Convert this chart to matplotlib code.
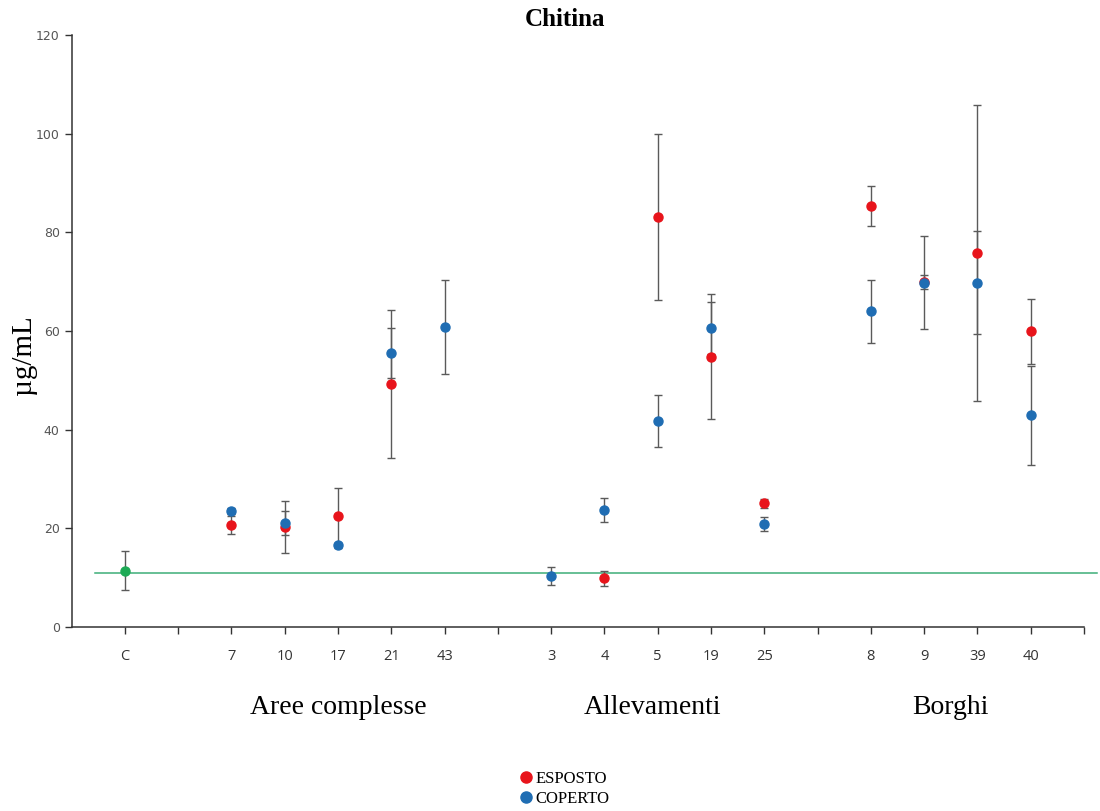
import numpy as np
import matplotlib
matplotlib.use('Agg')
import matplotlib.pyplot as plt
from matplotlib.lines import Line2D

nan = np.nan

# categories (empty strings are spacer slots between groups)
labels = ['C', '', '7', '10', '17', '21', '43', '', '3', '4', '5', '19', '25', '', '8', '9', '39', '40', '']
groups = ['Aree complesse', 'Allevamenti', 'Borghi']

esposto = [nan, nan, 20.7, 20.3, 22.4, 49.2, nan, nan, nan, 9.9, 83.1, 54.8, 25.1, nan, 85.3, 69.9, 75.8, 59.9]
esposto_err = [nan, nan, 1.8, 5.3, 5.7, 15.0, nan, nan, nan, 1.5, 16.8, 12.6, 0.9, nan, 4.1, 1.4, 30.0, 6.5]
coperto = [nan, nan, 23.5, 21.1, 16.6, 55.5, 60.8, nan, 10.3, 23.7, 41.7, 60.6, 20.9, nan, 64.0, 69.8, 69.8, 42.9]
coperto_err = [nan, nan, 0.6, 2.4, 0.5, 5.1, 9.5, nan, 1.8, 2.5, 5.3, 5.2, 1.4, nan, 6.4, 9.5, 10.5, 10.1]
controllo = 11.4
controllo_err = 4.0
soglia = 11.0

RED = '#E8141B'
BLUE = '#1F6DB3'
GREEN = '#1DAA55'
ERR = '#5a5a5a'

x = np.arange(1, len(esposto) + 1)

fig = plt.figure(figsize=(11, 8.11), dpi=100)
ax = fig.add_axes([0.065, 0.2269, 0.9205, 0.73])

ax.axhline(soglia, xmin=0.45 / 19, xmax=19.25 / 19, color='#3DAE78', lw=1.1, clip_on=False, zorder=1)

ekw = dict(fmt='o', ecolor=ERR, elinewidth=1.0, capsize=3, capthick=1.0, markersize=6.5, zorder=3)
ax.errorbar([1], [controllo], yerr=[controllo_err], color=GREEN, **ekw)
ax.errorbar(x, esposto, yerr=esposto_err, color=RED, **ekw)
ax.errorbar(x, coperto, yerr=coperto_err, color=BLUE, **ekw)

ax.set_xlim(0, 19)
ax.set_ylim(0, 120)
ax.set_xticks(np.arange(1, 20))
ax.set_xticklabels(labels, fontsize=10.5, color='#333333', family='Open Sans')
ax.set_yticks(np.arange(0, 121, 20))
ax.set_yticklabels([str(v) for v in range(0, 121, 20)], fontsize=9, color='#555555', family='DejaVu Sans')
ax.tick_params(axis='both', direction='out', length=5, width=1, color='#333333')
ax.tick_params(axis='x', pad=11)
for side in ['top', 'right']:
    ax.spines[side].set_visible(False)
for side in ['left', 'bottom']:
    ax.spines[side].set_color('#333333')
    ax.spines[side].set_linewidth(1.1)

ax.set_ylabel('µg/mL', family='Liberation Serif', fontsize=21)
ax.yaxis.set_label_coords(-0.034, 0.46)
fig.text(0.514, 1 - 20 / 811, 'Chitina', ha='center', va='center',
         family='Liberation Serif', fontsize=18, fontweight='bold')

for gx, g in zip([338, 653, 950], groups):
    fig.text(gx / 1100, 1 - 708 / 811, g, ha='center', va='center',
             family='Liberation Serif', fontsize=20)

handles = [Line2D([], [], ls='', marker='o', color=RED, markersize=8),
           Line2D([], [], ls='', marker='o', color=BLUE, markersize=8)]
fig.legend(handles, ['ESPOSTO', 'COPERTO'], loc='center', bbox_to_anchor=(0.514, 1 - 789 / 811),
           frameon=False, handlelength=0.6, handletextpad=0.25, labelspacing=0.25,
           prop={'family': 'Liberation Serif', 'size': 12})

fig.savefig('out.png', dpi=100)
